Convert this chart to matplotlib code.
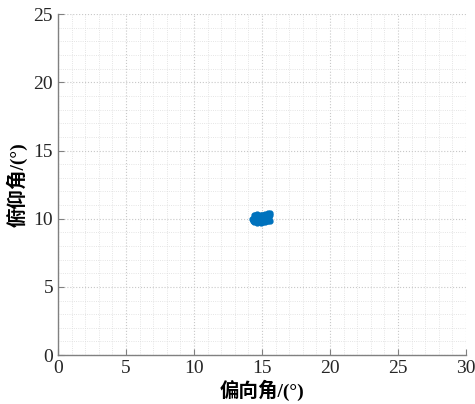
import matplotlib.pyplot as plt
import numpy as np

plt.rcParams['font.family'] = ['Liberation Serif', 'Noto Sans CJK SC']
plt.rcParams['axes.unicode_minus'] = False

# measured points (yaw, pitch) in degrees
yaw = [14.30, 14.35, 14.40, 14.42, 14.45, 14.50, 14.52, 14.55, 14.60, 14.62,
       14.65, 14.70, 14.72, 14.75, 14.80, 14.82, 14.85, 14.90, 14.92, 14.95,
       15.00, 15.02, 15.05, 15.10, 15.12, 15.15, 15.20, 15.22, 15.25, 15.30,
       15.32, 15.35, 15.40, 15.42, 15.45, 15.50, 15.52, 15.55, 15.60, 14.38,
       14.48, 14.58, 14.68, 14.78, 14.88, 14.98, 15.08, 15.18, 15.28, 15.38,
       15.48, 15.58, 14.44, 14.64, 14.84, 15.04, 15.24, 15.44, 14.34, 15.56]
pitch = [10.00, 9.85, 10.15, 9.75, 10.25, 9.95, 10.30, 9.80, 10.10, 9.70,
         10.35, 9.90, 10.05, 9.75, 10.20, 9.85, 10.30, 9.95, 9.72, 10.10,
         9.80, 10.25, 10.00, 9.75, 10.30, 9.90, 10.15, 9.78, 10.05, 9.88,
         10.25, 9.95, 10.10, 9.80, 10.40, 9.90, 10.20, 10.05, 10.45, 10.05,
         9.80, 10.22, 9.90, 10.02, 9.76, 10.28, 9.88, 10.00, 10.18, 9.82,
         10.12, 9.85, 9.92, 10.12, 10.08, 9.92, 10.32, 9.98, 9.92, 10.30]

fig = plt.figure(figsize=(4.75, 4.04), dpi=100)
ax = fig.add_axes([0.122, 0.121, 0.859, 0.844])

ax.plot(yaw, pitch, '.', color='#0072BD', markersize=7, zorder=3)

ax.set_xlim(0, 30)
ax.set_ylim(0, 25)
ax.set_xticks(np.arange(0, 31, 5))
ax.set_yticks(np.arange(0, 26, 5))
ax.set_xticks(np.arange(0, 31, 1), minor=True)
ax.set_yticks(np.arange(0, 26, 1), minor=True)
ax.grid(True, which='major', linestyle=':', color='#c8c8c8', linewidth=0.8)
ax.grid(True, which='minor', linestyle=':', color='#dcdcdc', linewidth=0.6)
ax.set_axisbelow(True)

for s in ['top', 'right']:
    ax.spines[s].set_visible(False)
for s in ['left', 'bottom']:
    ax.spines[s].set_color('#808080')
    ax.spines[s].set_linewidth(1.0)
ax.tick_params(which='major', direction='in', length=4, color='#808080',
               labelsize=14, labelcolor='#262626')
ax.tick_params(which='minor', length=0)

ax.set_xlabel('偏向角/(°)', fontsize=14, fontweight='bold', labelpad=2)
ax.set_ylabel('俯仰角/(°)', fontsize=14, fontweight='bold', labelpad=4)

fig.savefig('out.png', dpi=100)
